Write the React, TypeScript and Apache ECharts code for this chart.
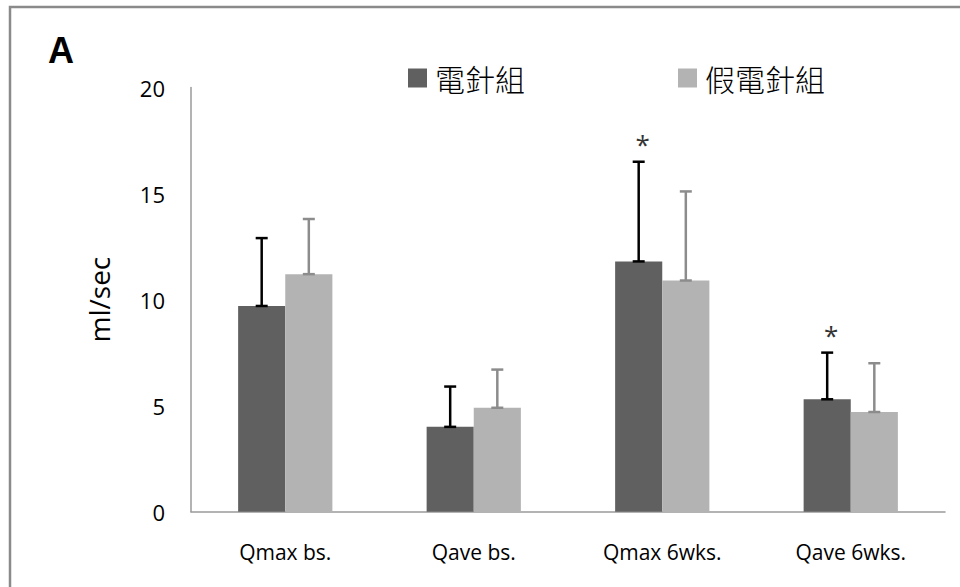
import React, { useEffect, useRef } from "react";
import * as echarts from "echarts";

// Flow-rate measurements (ml/sec), mean and standard deviation per group
const categories = ["Qmax bs.", "Qave bs.", "Qmax 6wks.", "Qave 6wks."];
const seriesNames = ["電針組", "假電針組"];
const acupunctureMean = [9.7, 4.0, 11.8, 5.3];
const acupunctureSD = [3.2, 1.9, 4.7, 2.2];
const shamMean = [11.2, 4.9, 10.9, 4.7];
const shamSD = [2.6, 1.8, 4.2, 2.3];
// significance markers drawn above the acupuncture group's error bars
const acupunctureSignificant = [false, false, true, true];
const yTicks = { min: 0, max: 20, interval: 5 };

const DARK = "#606060";
const LIGHT = "#b3b3b3";
const AXIS = "#9a9a9a";
const LATIN = "'Open Sans', 'DejaVu Sans', sans-serif";

type ErrRow = [number, number, number, number];

function errorBarSeries(
  name: string,
  means: number[],
  sds: number[],
  side: number,
  color: string,
  stars: boolean[] | null
) {
  const data: ErrRow[] = means.map((m, i) => [i, m, m + sds[i], stars && stars[i] ? 1 : 0]);
  return {
    type: "custom",
    name,
    z: 10,
    silent: true,
    data,
    encode: { x: 0, y: [1, 2] },
    renderItem: (params: any, api: any) => {
      const idx = api.value(0);
      const base = api.coord([idx, api.value(1)]);
      const top = api.coord([idx, api.value(2)]);
      const band = api.size([1, 0])[0];
      const barW = band * 0.25;
      const x = base[0] + side * barW / 2;
      const cap = 6;
      const style = { stroke: color, lineWidth: 2.5 };
      const children: any[] = [
        { type: "line", shape: { x1: x, y1: base[1], x2: x, y2: top[1] }, style },
        { type: "line", shape: { x1: x - cap, y1: top[1], x2: x + cap, y2: top[1] }, style },
        { type: "line", shape: { x1: x - cap, y1: base[1], x2: x + cap, y2: base[1] }, style },
      ];
      if (api.value(3) === 1) {
        children.push({
          type: "text",
          x: x + 4,
          y: top[1] - 18,
          style: {
            text: "*",
            fill: "#333",
            font: `26px ${LATIN}`,
            align: "center",
            verticalAlign: "middle",
          },
        });
      }
      return { type: "group", children };
    },
  };
}

export default function App() {
  const ref = useRef<HTMLDivElement>(null);

  useEffect(() => {
    if (!ref.current) return;
    const chart = echarts.init(ref.current, null, { renderer: "svg" });
    chart.setOption({
      animation: false,
      backgroundColor: "#ffffff",
      graphic: [
        {
          type: "rect",
          shape: { x: 10, y: 7, width: 1000, height: 1000 },
          style: { fill: "none", stroke: "#8a8a8a", lineWidth: 2.5 },
          z: 0,
        },
        {
          type: "text",
          x: 61,
          y: 50,
          style: {
            text: "A",
            font: "bold 36px 'Liberation Sans', Arial, sans-serif",
            fill: "#000",
            align: "center",
            verticalAlign: "middle",
          },
        },
      ],
      legend: {
        data: seriesNames,
        left: 403,
        top: 58,
        icon: "rect",
        itemWidth: 19,
        itemHeight: 19,
        itemGap: 153,
        textStyle: {
          fontFamily: "'Noto Sans CJK TC', sans-serif",
          fontSize: 30,
          fontWeight: 300,
          color: "#000",
          padding: [0, 0, 0, 3],
        },
      },
      grid: { left: 191, right: 15, top: 87.5, bottom: 75.3, containLabel: false },
      xAxis: {
        type: "category",
        data: categories,
        axisLine: { lineStyle: { color: AXIS, width: 1.5 } },
        axisTick: { show: false },
        axisLabel: { margin: 30, color: "#000", fontFamily: LATIN, fontSize: 21 },
      },
      yAxis: {
        type: "value",
        min: yTicks.min,
        max: yTicks.max,
        interval: yTicks.interval,
        name: "ml/sec",
        nameLocation: "middle",
        nameGap: 78,
        nameRotate: 90,
        nameTextStyle: { color: "#000", fontFamily: LATIN, fontSize: 28 },
        axisLine: { show: true, lineStyle: { color: AXIS, width: 1.5 } },
        axisTick: { show: false },
        splitLine: { show: false },
        axisLabel: { margin: 26, color: "#000", fontFamily: LATIN, fontSize: 22 },
      },
      series: [
        {
          type: "bar",
          name: seriesNames[0],
          data: acupunctureMean,
          barGap: "0%",
          barCategoryGap: "50%",
          itemStyle: { color: DARK },
        },
        {
          type: "bar",
          name: seriesNames[1],
          data: shamMean,
          barGap: "0%",
          barCategoryGap: "50%",
          itemStyle: { color: LIGHT },
        },
        errorBarSeries("acupuncture-sd", acupunctureMean, acupunctureSD, -1, "#000", acupunctureSignificant),
        errorBarSeries("sham-sd", shamMean, shamSD, 1, "#8c8c8c", null),
      ],
    });
    return () => chart.dispose();
  }, []);

  return (
    <div
      ref={ref}
      style={{ position: "fixed", left: 0, top: 0, width: 960, height: 587 }}
    />
  );
}
